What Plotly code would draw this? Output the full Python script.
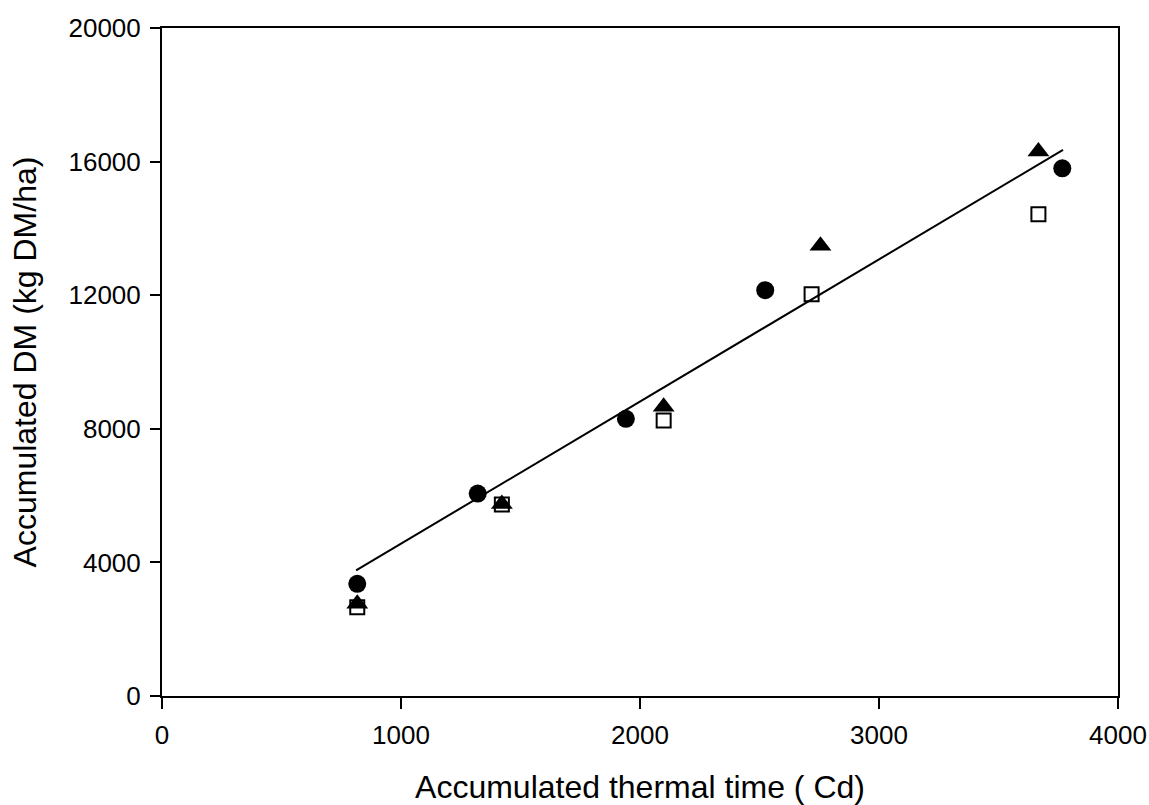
import plotly.graph_objects as go

# Data
circle_x = [817, 1321, 1941, 2524, 3767]
circle_y = [3360, 6060, 8300, 12150, 15800]

triangle_x = [817, 1422, 2099, 2755, 3667]
triangle_y = [2760, 5750, 8660, 13480, 16300]

square_x = [817, 1422, 2099, 2718, 3667]
square_y = [2655, 5730, 8250, 12030, 14420]

fit_x = [812, 3770]
fit_y = [3760, 16350]

x_ticks = [0, 1000, 2000, 3000, 4000]
y_ticks = [0, 4000, 8000, 12000, 16000, 20000]

FONT = "Liberation Sans, Arial, sans-serif"

fig = go.Figure()
fig.add_trace(go.Scatter(x=fit_x, y=fit_y, mode="lines",
                         line=dict(color="black", width=2), showlegend=False))
fig.add_trace(go.Scatter(x=circle_x, y=circle_y, mode="markers",
                         marker=dict(symbol="circle", size=18, color="black"), showlegend=False))
fig.add_trace(go.Scatter(x=triangle_x, y=triangle_y, mode="markers",
                         marker=dict(symbol="triangle-up", size=19, color="black"), showlegend=False))
fig.add_trace(go.Scatter(x=square_x, y=square_y, mode="markers",
                         marker=dict(symbol="square-open", size=14, color="black",
                                     line=dict(width=2, color="black")), showlegend=False))

fig.update_layout(
    width=1149, height=805,
    margin=dict(l=162, r=31, t=28, b=109, autoexpand=False),
    paper_bgcolor="white", plot_bgcolor="white",
    font=dict(family=FONT, color="black"),
)
fig.update_xaxes(
    range=[0, 4000], tickvals=x_ticks, ticktext=[str(v) for v in x_ticks],
    showgrid=False, zeroline=False, showline=True, linecolor="black", linewidth=2,
    mirror=True, ticks="outside", ticklen=11, tickwidth=2, tickcolor="black",
    tickfont=dict(size=26, family=FONT), ticklabelstandoff=4, automargin=False,
    title=dict(text="Accumulated thermal time ( Cd)", font=dict(size=32, family=FONT), standoff=34),
)
fig.update_yaxes(
    range=[0, 20000], tickvals=y_ticks, ticktext=[str(v) for v in y_ticks],
    showgrid=False, zeroline=False, showline=True, linecolor="black", linewidth=2,
    mirror=True, ticks="outside", ticklen=10, tickwidth=2, tickcolor="black",
    tickfont=dict(size=26, family=FONT), ticklabelstandoff=4, automargin=False,
    title=dict(text="Accumulated DM (kg DM/ha)", font=dict(size=32, family=FONT), standoff=22),
)

# Remove the default page margin so the figure fills the window exactly.
fig.write_html(
    "out.html",
    config={"displayModeBar": False},
    post_script="document.body.style.margin='0';document.body.style.overflow='hidden';",
)
